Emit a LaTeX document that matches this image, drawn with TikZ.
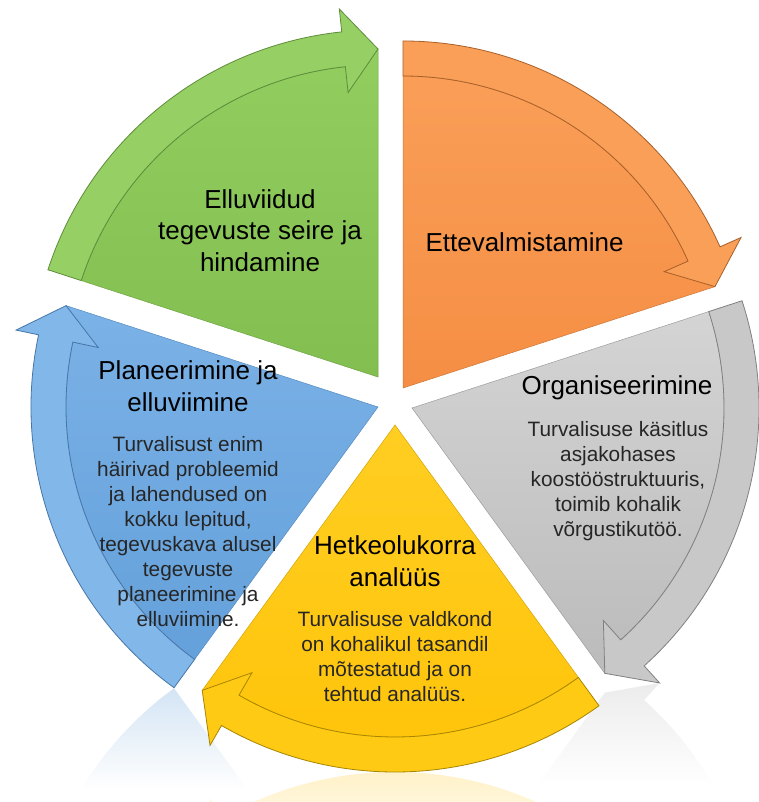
\documentclass[tikz,border=0pt]{standalone}
\usepackage{fontspec}
\setmainfont{Liberation Sans}
\usetikzlibrary{calc,fadings}
\definecolor{bodytext}{HTML}{262626}
\definecolor{gTop}{HTML}{92CD60}\definecolor{gBot}{HTML}{82BE50}\definecolor{gBand}{HTML}{96D064}\definecolor{gLine}{HTML}{5E8C3A}
\definecolor{oTop}{HTML}{FA9E57}\definecolor{oBot}{HTML}{F58E44}\definecolor{oBand}{HTML}{FA9F58}\definecolor{oLine}{HTML}{A8602A}
\definecolor{sTop}{HTML}{D4D4D4}\definecolor{sBot}{HTML}{BBBBBB}\definecolor{sBand}{HTML}{C8C8C8}\definecolor{sLine}{HTML}{808080}
\definecolor{yTop}{HTML}{FFCE22}\definecolor{yBot}{HTML}{FFC40A}\definecolor{yBand}{HTML}{FFCA14}\definecolor{yLine}{HTML}{A88500}
\definecolor{bTop}{HTML}{7BB2E7}\definecolor{bBot}{HTML}{64A0DA}\definecolor{bBand}{HTML}{82B7EA}\definecolor{bLine}{HTML}{4676A6}
\def\Rout{347}\def\Rin{312}\def\Rhi{370}\def\Rlo{286}\def\Rtip{328}\def\dA{6}
\newcommand\setseg[4]{\pgfmathsetmacro\Px{#1}\pgfmathsetmacro\Py{#2}%
  \pgfmathsetmacro\aA{#3}\pgfmathsetmacro\aB{#3-(#4)*72}\pgfmathsetmacro\aC{#3-(#4)*(72-\dA)}}
\newcommand\bodypath{(\Px,\Py) -- ($(\Px,\Py)+(\aA:\Rin)$) arc[start angle=\aA,end angle=\aC,radius=\Rin] -- ($(\Px,\Py)+(\aB:\Rtip)$) -- cycle}
\newcommand\bandpath{($(\Px,\Py)+(\aA:\Rout)$) arc[start angle=\aA,end angle=\aC,radius=\Rout] -- ($(\Px,\Py)+(\aC:\Rhi)$) -- ($(\Px,\Py)+(\aB:\Rtip)$) -- ($(\Px,\Py)+(\aC:\Rlo)$) -- ($(\Px,\Py)+(\aC:\Rin)$) arc[start angle=\aC,end angle=\aA,radius=\Rin] -- cycle}
\newcommand\seg[7]{%
  \setseg{#1}{#2}{#3}{1}%
  \path[top color=#4,bottom color=#5,draw=#7!50!#5,line width=0.5pt] \bodypath;
  \path[fill=#6,draw=#7,line width=0.8pt] \bandpath;
}
\newcommand\refl[6]{%
  \begin{scope}
  \setseg{#1}{2*(#4)-(#2)}{-(#3)}{-1}%
  \clip \bodypath \bandpath;
  \fill[#5, opacity=#6, path fading=south] (0,#4) rectangle (758,{#4-100});
  \end{scope}}
\begin{document}
\begin{tikzpicture}[x=1pt,y=1pt,
  ttl/.style={font=\fontsize{26}{31.5}\selectfont, align=center, inner sep=0pt, text=black},
  bdy/.style={font=\fontsize{20.8}{25}\selectfont, align=center, inner sep=0pt, text=bodytext}]
\useasboundingbox[fill=white] (0,0) rectangle (758,802);
% reflections
\refl{412}{394}{18}{119}{sBot}{0.28}
\refl{395}{377}{-54}{30}{yBot}{0.22}
\refl{378}{395}{234}{114}{bBot}{0.28}
% segments
\seg{378}{425}{162}{gTop}{gBot}{gBand}{gLine}
\seg{403}{414}{90}{oTop}{oBot}{oBand}{oLine}
\seg{412}{394}{18}{sTop}{sBot}{sBand}{sLine}
\seg{395}{377}{-54}{yTop}{yBot}{yBand}{yLine}
\seg{378}{395}{234}{bTop}{bBot}{bBand}{bLine}
% texts
\node[ttl] (t1) at (260,571.5) {Elluviidud\\tegevuste seire ja\\hindamine};
\node[ttl,anchor=base] (t2) at (524.5,550) {Ettevalmistamine};
\node[ttl,anchor=base] (t3) at (617,407) {Organiseerimine};
\node[bdy] (b3) at (618,320.5) {Turvalisuse käsitlus\\asjakohases\\koostööstruktuuris,\\toimib kohalik\\võrgustikutöö.};
\node[ttl] (t4) at (395,240.6) {Hetkeolukorra\\analüüs};
\node[bdy] (b4) at (395,145.6) {Turvalisuse valdkond\\on kohalikul tasandil\\mõtestatud ja on\\tehtud analüüs.};
\node[ttl] (t5) at (188,415.6) {Planeerimine ja\\elluviimine};
\node[bdy] (b5) at (188,270.6) {Turvalisust enim\\häirivad probleemid\\ja lahendused on\\kokku lepitud,\\tegevuskava alusel\\tegevuste\\planeerimine ja\\elluviimine.};
\end{tikzpicture}
\end{document}
